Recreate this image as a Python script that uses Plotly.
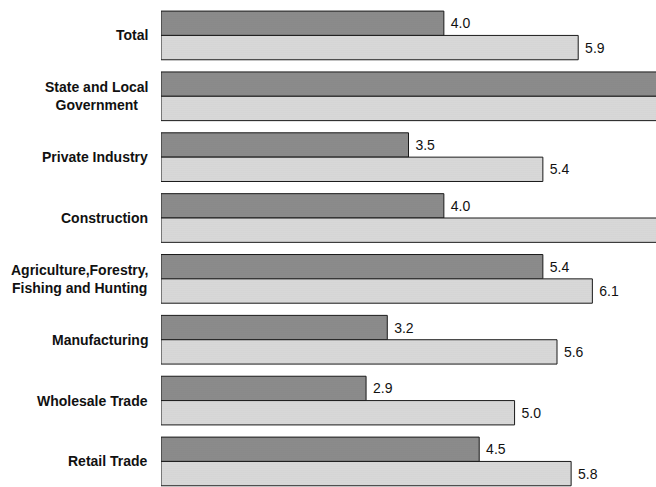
import plotly.graph_objects as go

# Industry groups, top to bottom
categories = [
    "Total",
    "State and Local<br>Government",
    "Private Industry",
    "Construction",
    "Agriculture,Forestry,<br>Fishing and Hunting",
    "Manufacturing",
    "Wholesale Trade",
    "Retail Trade",
]

# Rates for the two series (dark = first series, light = second series)
dark_values = [4.0, 7.4, 3.5, 4.0, 5.4, 3.2, 2.9, 4.5]
light_values = [5.9, 7.9, 5.4, 7.6, 6.1, 5.6, 5.0, 5.8]

X_MAX = 7.0
VALUE_FONT = dict(family="Liberation Sans Narrow, Arial Narrow, Liberation Sans, sans-serif",
                  size=14, color="#111111")


def value_labels(values):
    # Labels sit just past the bar end; bars running off the axis carry none
    return ["\u00a0%.1f" % v if v < X_MAX else "" for v in values]


fig = go.Figure()

fig.add_trace(go.Bar(
    y=categories,
    x=dark_values,
    orientation="h",
    text=value_labels(dark_values),
    textposition="outside",
    cliponaxis=True,
    constraintext="none",
    textfont=VALUE_FONT,
    marker=dict(
        color="#8c8c8c",
        line=dict(color="#1a1a1a", width=1),
        pattern=dict(shape=".", fgcolor="#7b7b7b", bgcolor="#8f8f8f",
                     size=2, solidity=0.3, fillmode="replace"),
    ),
    hoverinfo="x+y",
))

fig.add_trace(go.Bar(
    y=categories,
    x=light_values,
    orientation="h",
    text=value_labels(light_values),
    textposition="outside",
    cliponaxis=True,
    constraintext="none",
    textfont=VALUE_FONT,
    marker=dict(
        color="#d6d6d6",
        line=dict(color="#1a1a1a", width=1),
        pattern=dict(shape=".", fgcolor="#c0c0c0", bgcolor="#dedede",
                     size=2, solidity=0.3, fillmode="replace"),
    ),
    hoverinfo="x+y",
))

# Category labels, centred line by line and right-aligned against the bars
for cat in categories:
    fig.add_annotation(
        x=0, y=cat, xref="paper", yref="y",
        text="<b>%s</b>" % cat,
        xanchor="right", yanchor="middle", align="center",
        xshift=-11, showarrow=False,
        font=dict(family="Liberation Sans, Arial, sans-serif", size=14, color="#111111"),
    )

fig.update_layout(
    width=656, height=487,
    margin=dict(l=161, r=0, t=5, b=0),
    paper_bgcolor="white",
    plot_bgcolor="white",
    barmode="group",
    bargap=0.2,
    bargroupgap=0.0,
    showlegend=False,
    xaxis=dict(range=[0, X_MAX], visible=False, showgrid=False, zeroline=False),
    yaxis=dict(range=[7.42, -0.5], showticklabels=False, showgrid=False,
               zeroline=False, showline=False, ticks=""),
)

fig.write_html("out.html")
